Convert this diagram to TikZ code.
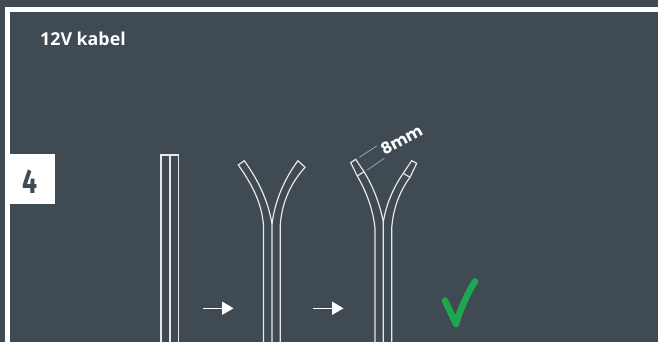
\documentclass[tikz,border=0pt]{standalone}
\usepackage{fontspec}
\setmainfont{Open Sans}
\newfontfamily\numfont{Fira Sans}
\newfontfamily\dimfont{Poppins}
\definecolor{bg}{HTML}{3F4A52}
\definecolor{okgreen}{HTML}{1FA650}
\definecolor{wire}{HTML}{E6E8E8}
\definecolor{dimgray}{HTML}{9CA3A7}
\tikzset{
  wireline/.style={draw=wire,line width=1.2pt,line join=miter},
  dimline/.style={draw=dimgray,line width=0.8pt},
  stepline/.style={draw=white,line width=1pt},
  stephead/.style={fill=white,draw=none}
}
\begin{document}
\begin{tikzpicture}[x=1pt,y=-1pt]
\useasboundingbox (0,0) rectangle (658,342);
\fill[bg] (0,0) rectangle (658,342);
% frame
\fill[white] (5,7.5) rectangle (658,12.5);
\fill[white] (5,7.5) rectangle (10,342);
% number box
\fill[white] (5,154) rectangle (55,204);
\node[text=bg,xscale=0.78,font=\numfont\bfseries\fontsize{34}{34}\selectfont] (num) at (30,182) {4};
% title
\node[anchor=west,text=white,inner sep=0pt,font=\bfseries\fontsize{17.8}{18}\selectfont] (title) at (40,39) {12V kabel};
% cable 1
\draw[wireline] (161,342) -- (161,155) -- (178.5,155) -- (178.5,342);
\draw[wireline] (170,155) -- (170,342);
% cable 2
\draw[wireline] (263.5,342) -- (263.5,226) .. controls (262,205) and (254,187) .. (238.3,165) -- (244.3,160.7)
  .. controls (258,180) and (268,200) .. (272,224);
\draw[wireline] (280.2,342) -- (280.2,226) .. controls (281.5,205) and (289,185) .. (305,167.3) -- (298,160.7)
  .. controls (285,178) and (275,200) .. (272,224) -- (272,342);
% cable 3
\draw[wireline] (375,342) -- (375,228) .. controls (373,210) and (367,193) .. (357.3,176) -- (350.7,162.7) -- (355.7,159.3) -- (364,171.7)
  .. controls (374,188) and (380,205) .. (383.3,222);
\draw[wireline] (357.3,176) -- (364,171.7);
\draw[wireline] (391.7,342) -- (391.7,228) .. controls (393,210) and (399,192) .. (410,177.3) -- (416.7,163.3) -- (411.7,160.7) -- (403.3,173.3)
  .. controls (393,188) and (386,205) .. (383.3,222) -- (383.3,342);
\draw[wireline] (403.3,173.3) -- (410,177.3);
% dimension
\coordinate (d1a) at (359.3,157.3); \coordinate (d1b) at (376.7,146);
\coordinate (d2a) at (367.3,170); \coordinate (d2b) at (384.3,158.3);
\draw[dimline] (d1a) -- (d1b);
\draw[dimline] (d2a) -- (d2b);
\node[rotate=28,text=white,inner sep=0pt,font=\dimfont\bfseries\fontsize{16}{16}\selectfont] (dim) at (401.5,140) {8mm};
% arrows
\coordinate (a1) at (203,308.3); \coordinate (a2) at (223,308.3);
\coordinate (b1) at (313,308.3); \coordinate (b2) at (333,308.3);
\draw[stepline] (a1) -- (a2);
\fill[stephead] (222,301.5) -- (233.5,308.3) -- (222,315) -- cycle;
\draw[stepline] (b1) -- (b2);
\fill[stephead] (332,301.5) -- (343.5,308.3) -- (332,315) -- cycle;
% check
\draw[okgreen,line width=6.5pt,line cap=round,line join=round] (445,300.5) -- (456,324) .. controls (460,310) and (467,294) .. (475,281.5);
\end{tikzpicture}
\end{document}
